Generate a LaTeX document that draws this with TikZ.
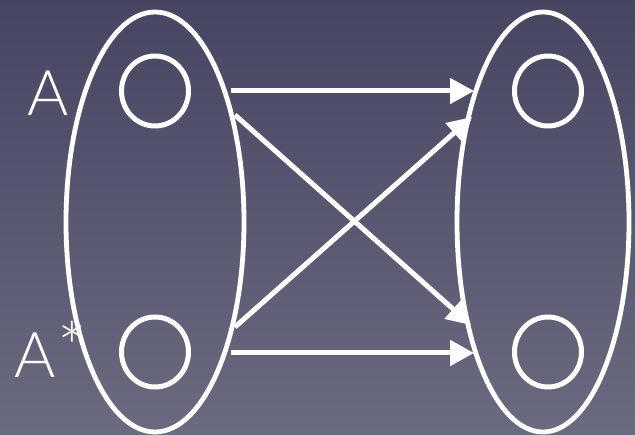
\documentclass[tikz,border=0pt]{standalone}
\usepackage{fontspec}
\newfontfamily\labfont{Lato Light}
\usetikzlibrary{shapes.geometric,arrows.meta}
\definecolor{bgtop}{RGB}{70,70,98}
\definecolor{bgbot}{RGB}{106,106,128}
\begin{document}
\begin{tikzpicture}[x=1pt,y=-1pt,
  bigset/.style={draw=white,line width=4.8pt,ellipse,inner sep=0pt,minimum width=178pt,minimum height=420pt},
  elem/.style={draw=white,line width=5pt,ellipse,inner sep=0pt,minimum width=67pt,minimum height=70pt},
  conn/.style={draw=white,line width=5pt,-{Triangle[length=24pt,width=25pt]}},
  lab/.style={text=white,font=\labfont\fontsize{63}{63}\selectfont,inner sep=0pt}]
\fill[top color=bgtop,bottom color=bgbot] (0,0) rectangle (635,435);
\useasboundingbox (0,0) rectangle (635,435);
\node[bigset] (L) at (155,222) {};
\node[bigset,minimum width=172pt] (R) at (543,222) {};
\node[elem] (l1) at (155,91) {};
\node[elem] (l2) at (155,352) {};
\node[elem] (r1) at (548,91) {};
\node[elem] (r2) at (548,352) {};
\node[lab] (la) at (48,93) {A};
\node[lab,anchor=base west] (las) at (14,378) {A\kern2pt\raisebox{4pt}{\fontsize{70}{70}\selectfont *}};
\coordinate (s1) at (231,91);
\coordinate (t1) at (474,91);
\coordinate (s2) at (231,353);
\coordinate (t2) at (474,353);
\coordinate (s3) at (235,115);
\coordinate (t3) at (471,325);
\coordinate (s4) at (235,327);
\coordinate (t4) at (472,117);
\draw[conn] (s1) -- (t1);
\draw[conn] (s2) -- (t2);
\draw[conn] (s3) -- (t3);
\draw[conn] (s4) -- (t4);
\end{tikzpicture}
\end{document}
